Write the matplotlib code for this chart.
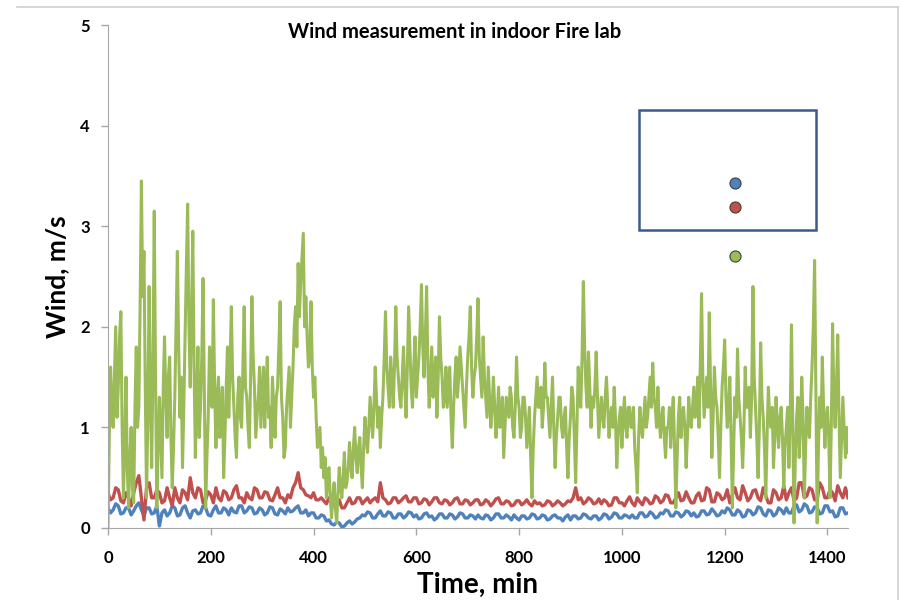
import numpy as np
import matplotlib.pyplot as plt
from matplotlib.patches import Rectangle
from matplotlib.lines import Line2D

plt.rcParams['font.family'] = ['Lato', 'DejaVu Sans']

# green series, every 2.5 min (one row = one hour)
green = [
    0.0, 0.9, 1.6, 1.2, 1.0, 1.5, 2.0, 1.1, 1.4, 1.9, 2.15, 1.0, 0.3, 0.8, 1.5, 0.6, 0.2, 0.7, 1.0, 0.4, 0.25, 1.2, 1.8, 1.0,
    1.2, 2.2, 3.45, 2.3, 2.75, 1.4, 0.3, 1.1, 2.4, 1.3, 0.6, 1.6, 3.15, 1.5, 0.2, 0.8, 1.3, 0.9, 0.5, 1.4, 1.9, 1.3, 0.9, 1.5,
    1.7, 0.9, 0.4, 0.8, 1.3, 2.0, 2.75, 1.8, 1.1, 1.5, 0.6, 1.2, 1.9, 2.6, 3.22, 2.0, 1.4, 2.1, 2.95, 1.6, 0.7, 1.3, 1.8, 0.9,
    1.2, 1.7, 2.48, 1.3, 0.2, 0.7, 1.1, 1.8, 1.6, 1.2, 2.27, 1.4, 0.8, 1.3, 1.5, 0.9, 1.0, 1.4, 0.5, 0.9, 1.4, 1.8, 1.1, 1.6,
    2.2, 1.5, 1.2, 0.9, 0.7, 1.3, 1.5, 1.1, 1.0, 1.6, 2.2, 1.4, 1.3, 1.0, 0.8, 1.5, 2.3, 1.7, 1.4, 0.9, 1.1, 1.3, 1.6, 1.0,
    1.3, 1.6, 1.0, 1.4, 1.7, 1.1, 1.2, 0.8, 1.5, 1.2, 0.9, 1.3, 1.4, 1.8, 2.25, 1.3, 1.1, 0.7, 0.8, 1.2, 1.4, 1.6, 1.0, 1.3,
    1.6, 2.0, 2.2, 1.8, 2.63, 2.1, 2.45, 2.7, 2.93, 2.0, 2.3, 1.9, 1.6, 1.7, 2.25, 1.6, 1.3, 1.5, 1.1, 0.8, 0.9, 1.0, 0.6, 0.8,
    0.5, 0.7, 0.3, 0.5, 0.6, 0.3, 0.1, 0.3, 0.45, 0.2, 0.05, 0.35, 0.6, 0.4, 0.3, 0.5, 0.75, 0.4, 0.45, 0.6, 0.85, 0.6, 0.5, 0.8,
    1.0, 0.7, 0.55, 0.8, 0.9, 0.6, 0.4, 0.8, 1.1, 0.9, 0.75, 1.0, 1.3, 1.1, 0.9, 1.2, 1.6, 1.3, 1.0, 1.2, 0.8, 1.1, 1.3, 1.7,
    2.15, 1.6, 1.4, 1.2, 1.7, 1.5, 1.2, 1.6, 2.2, 1.7, 1.5, 1.3, 1.2, 1.5, 1.8, 1.4, 1.1, 1.6, 2.2, 1.8, 1.4, 1.2, 1.6, 1.9,
    1.3, 1.5, 1.7, 2.0, 2.42, 1.8, 1.5, 1.9, 2.4, 1.6, 1.2, 1.5, 1.8, 1.3, 1.4, 1.7, 1.1, 1.5, 2.1, 1.7, 1.5, 1.2, 1.3, 1.6,
    1.2, 1.4, 1.6, 1.1, 0.8, 1.2, 1.5, 1.7, 1.3, 1.5, 1.8, 1.6, 1.4, 1.2, 1.0, 1.4, 1.7, 1.9, 2.2, 1.6, 1.3, 1.5, 1.6, 1.9,
    2.28, 1.7, 1.5, 1.3, 1.9, 1.5, 1.3, 1.1, 1.6, 1.3, 1.0, 1.2, 1.5, 1.2, 0.9, 1.1, 1.4, 1.0, 1.1, 1.3, 0.7, 1.0, 1.3, 1.2,
    1.1, 1.4, 1.3, 1.0, 0.9, 1.2, 1.7, 1.3, 1.2, 0.9, 1.0, 1.3, 1.3, 1.1, 0.8, 1.0, 1.2, 0.7, 0.3, 0.8, 1.1, 1.3, 1.5, 1.2,
    1.2, 1.4, 1.0, 1.2, 1.64, 1.3, 1.3, 1.1, 0.9, 1.2, 1.5, 1.0, 0.6, 0.9, 1.1, 1.3, 1.3, 1.0, 0.9, 1.1, 1.2, 0.8, 0.5, 0.9,
    1.1, 1.4, 1.3, 0.9, 0.45, 1.0, 1.6, 1.3, 1.2, 1.7, 2.45, 1.8, 1.4, 1.2, 1.75, 1.4, 1.0, 1.3, 1.2, 1.4, 1.75, 1.3, 0.9, 1.1,
    1.3, 1.1, 1.0, 1.3, 1.5, 1.2, 0.9, 1.1, 1.2, 1.0, 1.4, 1.1, 0.6, 0.9, 1.1, 1.2, 0.8, 1.1, 1.3, 1.0, 0.9, 1.2, 1.2, 1.0,
    1.0, 1.2, 0.8, 0.6, 0.35, 0.9, 1.2, 1.0, 0.9, 1.1, 1.3, 1.0, 1.1, 1.3, 1.5, 1.2, 1.64, 1.3, 1.2, 1.0, 1.4, 1.1, 0.9, 1.1,
    1.2, 0.9, 0.7, 1.0, 1.0, 1.2, 0.8, 1.1, 1.3, 0.8, 0.2, 0.7, 1.1, 1.3, 0.9, 1.1, 1.2, 1.0, 0.6, 0.9, 1.3, 1.1, 1.0, 1.2,
    1.4, 1.1, 1.2, 1.5, 1.0, 1.6, 2.33, 1.5, 1.1, 1.3, 1.5, 1.2, 2.14, 1.4, 0.7, 1.1, 1.6, 1.3, 1.2, 0.9, 0.5, 1.0, 1.4, 1.6,
    1.87, 1.3, 1.0, 1.2, 1.5, 0.9, 0.2, 0.8, 1.3, 1.1, 1.78, 1.3, 1.1, 0.9, 0.6, 1.0, 1.6, 1.2, 1.2, 1.4, 0.9, 1.3, 2.4, 1.5,
    1.2, 0.9, 0.5, 1.0, 1.84, 1.3, 1.1, 0.8, 0.3, 0.9, 1.4, 1.1, 1.0, 1.2, 0.6, 0.9, 1.3, 1.0, 0.8, 1.1, 1.2, 0.9, 0.4, 0.8,
    1.0, 1.2, 0.6, 1.1, 2.02, 1.0, 0.05, 0.7, 1.1, 1.3, 0.7, 1.0, 1.5, 1.1, 0.3, 0.8, 1.2, 1.0, 0.9, 1.3, 1.6, 2.0, 2.66, 1.4,
    0.05, 0.8, 1.3, 1.0, 1.7, 1.2, 0.8, 1.1, 1.2, 0.9, 0.3, 1.0, 2.03, 1.3, 1.0, 1.4, 1.92, 1.1, 0.5, 0.9, 1.3, 1.0, 0.7, 1.0,
    0.75,
]

# red series, every 5 min
red = [
    0.35, 0.28, 0.3, 0.4, 0.38, 0.27, 0.25, 0.35, 0.3, 0.22, 0.35, 0.45,
    0.52, 0.3, 0.08, 0.4, 0.45, 0.3, 0.3, 0.38, 0.35, 0.25, 0.27, 0.4,
    0.3, 0.22, 0.4, 0.3, 0.25, 0.38, 0.35, 0.28, 0.5, 0.35, 0.3, 0.4,
    0.38, 0.25, 0.28, 0.36, 0.33, 0.25, 0.4, 0.3, 0.27, 0.37, 0.35, 0.28,
    0.3, 0.38, 0.42, 0.3, 0.3, 0.25, 0.35, 0.3, 0.28, 0.4, 0.38, 0.3,
    0.3, 0.36, 0.35, 0.28, 0.27, 0.33, 0.4, 0.3, 0.3, 0.25, 0.33, 0.3,
    0.4, 0.45, 0.55, 0.4, 0.38, 0.33, 0.32, 0.3, 0.35, 0.28, 0.28, 0.3,
    0.27, 0.24, 0.3, 0.25, 0.22, 0.26, 0.28, 0.2, 0.2, 0.25, 0.3, 0.24,
    0.25, 0.3, 0.3, 0.24, 0.27, 0.3, 0.25, 0.28, 0.3, 0.26, 0.45, 0.3,
    0.28, 0.24, 0.25, 0.3, 0.3, 0.25, 0.27, 0.3, 0.32, 0.26, 0.26, 0.3,
    0.3, 0.24, 0.25, 0.29, 0.28, 0.23, 0.26, 0.3, 0.3, 0.25, 0.24, 0.28,
    0.27, 0.23, 0.25, 0.29, 0.3, 0.24, 0.24, 0.28, 0.27, 0.23, 0.25, 0.28,
    0.28, 0.23, 0.24, 0.28, 0.26, 0.22, 0.25, 0.29, 0.3, 0.24, 0.24, 0.27,
    0.26, 0.22, 0.23, 0.27, 0.27, 0.23, 0.25, 0.28, 0.24, 0.22, 0.27, 0.24,
    0.25, 0.22, 0.23, 0.27, 0.26, 0.22, 0.24, 0.27, 0.25, 0.22, 0.24, 0.27,
    0.26, 0.3, 0.4, 0.28, 0.3, 0.24, 0.26, 0.3, 0.28, 0.24, 0.25, 0.29,
    0.24, 0.28, 0.26, 0.22, 0.23, 0.3, 0.3, 0.25, 0.25, 0.22, 0.27, 0.31,
    0.25, 0.22, 0.3, 0.26, 0.23, 0.3, 0.28, 0.24, 0.25, 0.32, 0.3, 0.25,
    0.27, 0.33, 0.32, 0.25, 0.25, 0.3, 0.35, 0.27, 0.28, 0.36, 0.3, 0.25,
    0.25, 0.32, 0.35, 0.27, 0.28, 0.4, 0.38, 0.26, 0.26, 0.35, 0.33, 0.28,
    0.3, 0.38, 0.25, 0.33, 0.4, 0.3, 0.28, 0.42, 0.35, 0.27, 0.3, 0.37,
    0.38, 0.3, 0.27, 0.4, 0.32, 0.25, 0.25, 0.38, 0.35, 0.28, 0.3, 0.42,
    0.28, 0.35, 0.4, 0.27, 0.3, 0.45, 0.45, 0.3, 0.32, 0.4, 0.38, 0.28,
    0.28, 0.45, 0.4, 0.3, 0.3, 0.38, 0.35, 0.27, 0.42, 0.35, 0.3, 0.4,
    0.3,
]

# blue series, every 5 min
blue = [
    0.2, 0.15, 0.18, 0.24, 0.22, 0.14, 0.15, 0.2, 0.2, 0.13, 0.17, 0.22,
    0.25, 0.18, 0.12, 0.2, 0.2, 0.14, 0.15, 0.22, 0.02, 0.15, 0.18, 0.12,
    0.15, 0.22, 0.2, 0.12, 0.13, 0.2, 0.22, 0.15, 0.1, 0.17, 0.18, 0.14,
    0.15, 0.22, 0.2, 0.13, 0.12, 0.18, 0.22, 0.15, 0.15, 0.2, 0.18, 0.13,
    0.2, 0.16, 0.15, 0.22, 0.22, 0.15, 0.17, 0.21, 0.2, 0.14, 0.15, 0.2,
    0.18, 0.13, 0.15, 0.21, 0.2, 0.14, 0.13, 0.19, 0.17, 0.14, 0.2, 0.16,
    0.17, 0.2, 0.22, 0.15, 0.15, 0.18, 0.12, 0.15, 0.15, 0.1, 0.1, 0.13,
    0.12, 0.07, 0.08, 0.04, 0.03, 0.06, 0.05, 0.01, 0.02, 0.05, 0.07, 0.04,
    0.06, 0.09, 0.1, 0.13, 0.12, 0.16, 0.15, 0.1, 0.1, 0.14, 0.17, 0.12,
    0.12, 0.16, 0.15, 0.1, 0.1, 0.14, 0.14, 0.1, 0.12, 0.16, 0.15, 0.11,
    0.13, 0.09, 0.1, 0.14, 0.15, 0.11, 0.12, 0.08, 0.1, 0.14, 0.14, 0.1,
    0.1, 0.14, 0.13, 0.09, 0.11, 0.15, 0.14, 0.1, 0.1, 0.13, 0.12, 0.09,
    0.13, 0.1, 0.09, 0.13, 0.12, 0.08, 0.1, 0.14, 0.14, 0.1, 0.1, 0.13,
    0.11, 0.08, 0.13, 0.1, 0.08, 0.12, 0.12, 0.09, 0.1, 0.14, 0.13, 0.09,
    0.1, 0.13, 0.12, 0.08, 0.09, 0.12, 0.13, 0.1, 0.1, 0.07, 0.11, 0.13,
    0.08, 0.12, 0.12, 0.09, 0.1, 0.14, 0.13, 0.1, 0.09, 0.12, 0.12, 0.08,
    0.1, 0.14, 0.13, 0.09, 0.11, 0.15, 0.14, 0.1, 0.1, 0.13, 0.12, 0.1,
    0.13, 0.1, 0.1, 0.15, 0.15, 0.11, 0.12, 0.16, 0.14, 0.1, 0.11, 0.15,
    0.14, 0.18, 0.17, 0.12, 0.12, 0.16, 0.15, 0.11, 0.13, 0.17, 0.16, 0.12,
    0.15, 0.11, 0.12, 0.17, 0.17, 0.13, 0.14, 0.19, 0.16, 0.12, 0.13, 0.17,
    0.15, 0.2, 0.18, 0.13, 0.13, 0.18, 0.16, 0.11, 0.12, 0.18, 0.17, 0.13,
    0.15, 0.21, 0.2, 0.14, 0.12, 0.18, 0.17, 0.12, 0.14, 0.2, 0.18, 0.14,
    0.2, 0.15, 0.15, 0.22, 0.23, 0.16, 0.18, 0.24, 0.22, 0.15, 0.16, 0.21,
    0.2, 0.14, 0.15, 0.22, 0.22, 0.16, 0.17, 0.11, 0.12, 0.2, 0.2, 0.14,
    0.15,
]

t_green = np.arange(len(green)) * 2.5
t_red = np.arange(len(red)) * 5
t_blue = np.arange(len(blue)) * 5

c_blue = '#4F81BD'
c_red = '#C0504D'
c_green = '#9BBB59'

fig = plt.figure(figsize=(9.03, 6.0), dpi=100)
ax = fig.add_axes([108 / 903, 72 / 600, 740 / 903, 503 / 600])

ax.plot(t_blue, blue, color=c_blue, lw=2.4)
ax.plot(t_red, red, color=c_red, lw=2.4)
ax.plot(t_green, green, color=c_green, lw=2.2)

ax.set_xlim(0, 1440)
ax.set_ylim(0, 5)
ax.set_xticks(np.arange(0, 1401, 200))
ax.set_yticks(np.arange(0, 6, 1))
for lab in ax.get_xticklabels() + ax.get_yticklabels():
    lab.set_fontweight('bold')
    lab.set_fontsize(12)
ax.tick_params(axis='both', color='#a6a6a6', length=5, width=1)
ax.tick_params(axis='x', pad=11)
ax.tick_params(axis='y', pad=8)

for s in ['top', 'right']:
    ax.spines[s].set_visible(False)
for s in ['left', 'bottom']:
    ax.spines[s].set_color('#a6a6a6')

ax.set_xlabel('Time, min', fontsize=20, fontweight='bold')
ax.set_ylabel('Wind, m/s', fontsize=19, fontweight='bold', labelpad=8)
ax.text(0.468, 0.986, 'Wind measurement in indoor Fire lab', transform=ax.transAxes,
        ha='center', va='center', fontsize=14.5, fontweight='bold')

# legend box and markers (no labels in original)
ax.add_patch(Rectangle((0.718, 0.592), 0.239, 0.239, transform=ax.transAxes,
                       fill=False, edgecolor='#3b5a8c', lw=1.8))
for col, yy in [(c_blue, 0.686), (c_red, 0.638), (c_green, 0.541)]:
    ax.plot([0.847], [yy], marker='o', ms=8, color=col, mec='#404040',
            mew=0.8, transform=ax.transAxes, clip_on=False)

# outer chart frame
fig.add_artist(Line2D([17 / 903, 898 / 903], [1 - 7 / 600, 1 - 7 / 600],
                      color='#d0d0d0', lw=1.2))
fig.add_artist(Line2D([898 / 903, 898 / 903], [1 - 7 / 600, 0],
                      color='#d0d0d0', lw=1.2))

fig.savefig('out.png', dpi=100)
